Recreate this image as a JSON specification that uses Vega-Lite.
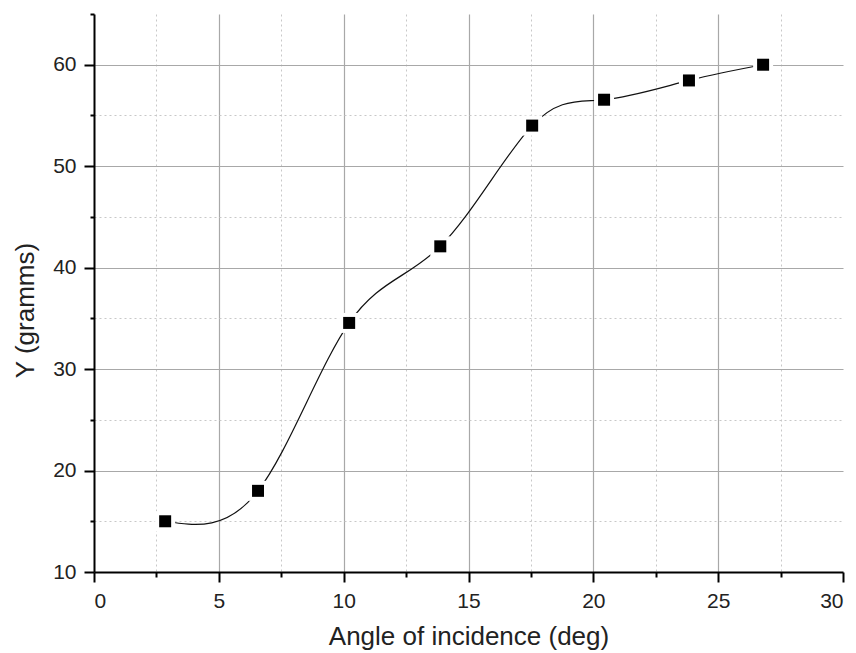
{
  "$schema": "https://vega.github.io/schema/vega-lite/v6.json",
  "autosize": {"type": "none"},
  "padding": {"left": 94, "top": 14, "right": 13, "bottom": 81},
  "width": 749,
  "height": 558,
  "background": "white",
  "config": {
    "view": {"stroke": null},
    "font": "Liberation Sans"
  },
  "data": {
    "values": [
      {"angle": 2.85, "y": 15.0},
      {"angle": 6.57, "y": 18.0},
      {"angle": 10.22, "y": 34.55},
      {"angle": 13.87, "y": 42.1},
      {"angle": 17.55, "y": 54.0},
      {"angle": 20.43, "y": 56.55},
      {"angle": 23.83, "y": 58.45},
      {"angle": 26.8, "y": 60.0}
    ]
  },
  "encoding": {
    "x": {
      "field": "angle",
      "type": "quantitative",
      "title": "Angle of incidence (deg)",
      "scale": {"domain": [0, 30], "nice": false, "zero": false},
      "axis": {
        "values": [0, 2.5, 5, 7.5, 10, 12.5, 15, 17.5, 20, 22.5, 25, 27.5, 30],
        "labelExpr": "datum.value % 5 === 0 ? datum.label : ''",
        "labelOverlap": false,
        "labelFontSize": 21,
        "labelColor": "#222222",
        "labelPadding": 8,
        "labelFont": "Liberation Sans",
        "domainColor": "black",
        "domainWidth": 2,
        "tickColor": "black",
        "tickWidth": 2,
        "tickSize": {"condition": {"test": "datum.value % 5 === 0", "value": 10}, "value": 5},
        "grid": true,
        "gridColor": {"condition": {"test": "datum.value % 5 === 0", "value": "#a8a8a8"}, "value": "#c8c8c8"},
        "gridDash": {"condition": {"test": "datum.value % 5 === 0", "value": []}, "value": [2, 3]},
        "gridWidth": {"condition": {"test": "datum.value % 5 === 0", "value": 1.2}, "value": 1},
        "gridOpacity": {"condition": {"test": "datum.value === 30 || datum.value === 0", "value": 0}, "value": 1},
        "titleFont": "Liberation Sans",
        "titleFontSize": 26,
        "titleFontWeight": "normal",
        "titleColor": "#222222",
        "titlePadding": 12
      }
    },
    "y": {
      "field": "y",
      "type": "quantitative",
      "title": "Y (gramms)",
      "scale": {"domain": [10, 65], "nice": false, "zero": false},
      "axis": {
        "values": [10, 15, 20, 25, 30, 35, 40, 45, 50, 55, 60, 65],
        "labelExpr": "datum.value % 10 === 0 ? datum.label : ''",
        "labelOverlap": false,
        "labelFontSize": 21,
        "labelColor": "#222222",
        "labelPadding": 8,
        "labelFont": "Liberation Sans",
        "domainColor": "black",
        "domainWidth": 2,
        "tickColor": "black",
        "tickWidth": 2,
        "tickSize": {"condition": {"test": "datum.value % 10 === 0", "value": 10}, "value": 4},
        "grid": true,
        "gridColor": {"condition": {"test": "datum.value % 10 === 0", "value": "#a8a8a8"}, "value": "#c8c8c8"},
        "gridDash": {"condition": {"test": "datum.value % 10 === 0", "value": []}, "value": [2, 3]},
        "gridWidth": {"condition": {"test": "datum.value % 10 === 0", "value": 1.2}, "value": 1},
        "gridOpacity": {"condition": {"test": "datum.value === 65 || datum.value === 10", "value": 0}, "value": 1},
        "titleFont": "Liberation Sans",
        "titleFontSize": 26,
        "titleFontWeight": "normal",
        "titleColor": "#222222",
        "titlePadding": 14,
        "titleY": 296
      }
    }
  },
  "layer": [
    {
      "mark": {"type": "line", "interpolate": "natural", "color": "#111111", "strokeWidth": 1.2}
    },
    {
      "mark": {"type": "point", "shape": "square", "filled": true, "color": "white", "opacity": 1, "size": 400}
    },
    {
      "mark": {"type": "point", "shape": "square", "filled": true, "color": "black", "opacity": 1, "size": 144}
    }
  ]
}
